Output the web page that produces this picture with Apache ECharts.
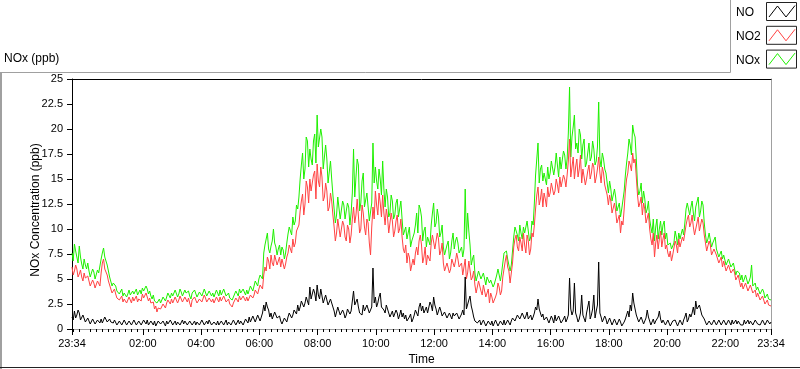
<!DOCTYPE html>
<html><head><meta charset="utf-8">
<script src="https://cdn.jsdelivr.net/npm/echarts@6/dist/echarts.min.js"></script>
<style>html,body{margin:0;padding:0;background:#fff}#c{width:800px;height:369px}</style>
</head><body><div id="c"></div>
<script>
// ---- data ----
// Samples every 5 minutes starting 23:34, plus readings half-way between them (the fuzz of the trace).
const seriesNames = ['NO', 'NO2', 'NOx'];
const startMinute = -26;   // 23:34 of the previous day, in minutes from midnight
const stepMinutes = 5;

const NO = [
  1.2,1.8,1.4,1.6,1.0,1.2,0.9,0.8,0.7,0.9,0.6,0.8,
  1.0,0.9,1.1,0.8,0.7,0.6,0.8,0.5,0.7,0.6,0.8,0.5,
  0.7,0.6,0.9,0.5,0.8,0.6,0.7,0.9,0.5,0.6,0.8,0.5,
  0.7,0.4,0.6,0.8,0.5,0.7,0.6,0.4,0.8,0.6,0.5,0.7,
  0.5,0.8,0.6,0.4,0.7,0.5,0.8,0.6,0.5,0.7,0.4,0.6,
  0.8,0.5,0.7,0.6,0.4,0.7,0.5,0.8,0.6,0.5,0.7,0.6,
  0.9,1.2,0.8,1.1,0.9,1.3,1.0,2.4,2.7,1.9,1.6,1.2,
  1.5,1.0,0.8,0.6,1.0,1.2,1.6,1.4,2.0,2.4,2.2,3.0,
  2.6,3.4,4.2,3.2,3.6,4.4,3.0,3.8,2.6,3.2,2.2,2.8,
  1.8,1.4,2.0,1.2,1.6,1.4,2.2,1.8,3.8,2.6,2.2,1.8,
  2.4,1.6,2.0,1.4,6.1,3.2,2.6,3.6,2.4,1.6,2.0,1.2,
  1.8,1.0,1.6,1.4,1.2,1.0,0.8,1.2,0.7,1.4,1.8,2.2,
  1.8,1.6,2.2,1.8,2.4,3.2,2.0,1.6,1.8,1.2,1.4,1.0,
  1.3,1.6,1.1,1.4,1.2,1.9,5.2,2.2,3.3,1.8,0.8,0.6,
  0.9,0.5,0.7,0.4,0.6,0.8,0.5,0.7,0.4,0.6,0.9,0.5,
  0.7,0.8,1.2,1.0,1.5,1.1,1.6,1.3,1.0,1.4,1.2,2.2,
  3.0,1.8,1.5,0.8,1.2,0.7,1.0,1.4,0.9,1.1,0.7,1.3,
  1.0,5.1,1.4,4.6,1.2,1.0,3.4,1.2,1.6,2.8,1.4,3.4,
  1.8,6.7,1.2,0.8,1.0,0.6,0.9,0.5,0.8,0.6,0.7,0.5,
  1.0,1.8,2.4,3.6,2.0,1.2,0.8,1.0,0.6,1.9,0.8,0.7,
  0.5,0.9,1.8,0.6,0.8,0.5,0.7,0.4,0.6,0.8,0.5,0.7,
  0.9,1.6,1.0,1.2,2.2,2.8,1.8,2.6,1.6,0.7,0.5,0.8,
  0.6,0.9,0.5,0.7,0.6,0.8,0.5,0.7,0.9,0.6,0.5,0.8,
  0.6,0.9,0.7,0.5,0.8,0.6,1.0,0.7,0.5,0.8,0.6,0.9,
  0.7
];
const NO_half = [
  0.9,1.1,1.9,0.9,1.4,0.7,1.1,0.5,1.0,0.5,0.9,0.6,
  0.6,1.2,0.7,1.0,0.5,0.9,0.4,0.8,0.4,0.9,0.4,0.8,
  0.4,0.9,0.4,0.8,0.4,0.9,0.5,0.4,0.8,0.4,0.3,0.8,
  0.5,0.8,0.3,0.5,0.9,0.4,0.8,0.7,0.4,0.9,0.8,0.4,
  0.8,0.4,0.8,0.7,0.4,0.9,0.4,0.8,0.9,0.4,0.7,0.4,
  0.4,0.8,0.4,0.9,0.7,0.4,0.9,0.4,0.9,0.8,0.4,1.0,
  0.6,0.7,1.3,0.7,1.4,0.8,1.6,1.8,2.2,1.2,1.0,1.7,
  1.1,1.3,0.5,1.1,0.7,1.6,1.1,1.9,1.5,1.8,2.8,2.2,
  3.2,2.4,3.0,4.0,2.8,3.4,4.0,2.6,3.4,2.4,3.0,2.2,
  1.2,2.2,1.4,1.9,1.1,2.0,1.5,2.8,2.4,3.0,1.6,1.4,
  1.8,2.4,1.6,2.2,2.6,2.2,3.2,2.2,1.9,2.4,1.6,1.0,
  1.2,1.9,1.0,1.9,1.6,1.4,0.6,1.5,1.0,1.9,1.3,2.6,
  2.3,1.9,1.6,2.7,1.8,2.4,1.4,2.2,1.3,1.7,1.1,1.6,
  1.0,1.3,1.6,1.0,1.5,1.4,2.0,2.9,2.3,1.2,1.0,0.4,
  0.4,0.9,0.3,0.8,0.4,0.3,0.9,0.3,0.8,0.4,0.4,0.9,
  0.4,1.1,0.8,1.4,1.0,1.6,1.0,1.7,1.2,0.9,1.6,1.9,
  2.0,1.2,0.9,1.2,0.6,1.3,0.6,0.8,1.3,0.6,1.0,0.7,
  1.4,2.0,1.8,1.6,0.7,1.6,1.4,0.7,2.2,1.0,2.0,1.1,
  2.4,1.6,0.7,1.3,0.5,1.1,0.4,1.0,0.4,1.0,0.3,0.7,
  1.4,1.2,1.8,2.6,1.4,0.7,1.2,0.5,1.1,1.2,0.4,1.0,
  0.8,1.2,1.0,0.9,0.4,0.9,0.3,0.8,0.9,0.3,0.9,0.4,
  1.2,0.7,1.5,1.6,1.4,2.0,2.4,1.4,1.0,0.4,0.8,0.4,
  0.9,0.4,0.9,0.4,0.9,0.4,0.9,0.4,0.5,0.9,0.8,0.4,
  0.4,0.5,0.9,0.8,0.4,0.9,0.5,0.4,0.9,0.4,0.9,0.5
];

const NO2 = [
  6.2,5.8,6.0,5.5,5.2,5.6,5.0,4.8,4.5,4.6,4.2,4.6,
  5.6,7.0,6.2,4.8,4.2,3.8,3.5,3.3,3.0,2.7,3.1,2.8,
  2.9,3.2,3.0,2.7,3.2,3.5,3.0,3.4,3.1,2.4,2.0,1.7,
  2.3,1.9,2.4,2.6,2.8,3.0,2.7,3.1,2.9,3.2,2.8,3.0,
  3.1,2.2,2.8,3.0,2.7,3.2,2.9,3.1,2.8,3.3,3.0,2.7,
  3.0,3.2,2.9,3.1,2.8,2.5,2.2,2.7,3.0,3.3,2.9,3.1,
  3.2,3.0,3.6,3.4,3.8,4.0,4.5,5.4,5.8,6.8,7.4,6.3,
  7.6,6.8,6.2,6.8,6.5,7.6,8.2,9.0,8.6,9.6,11.8,13.5,
  12.5,14.2,15.0,13.6,15.8,16.5,14.2,15.2,13.2,13.8,12.2,12.8,
  10.2,9.6,10.8,9.0,10.4,8.8,10.0,9.4,12.2,11.4,12.8,10.0,
  11.6,9.4,10.6,7.4,12.2,13.8,11.4,12.6,13.4,10.4,11.2,9.6,
  10.8,9.8,11.4,10.0,9.2,7.6,6.6,7.2,5.6,6.4,8.2,8.8,
  8.4,7.2,6.4,7.6,8.6,9.6,8.2,9.0,7.8,6.6,5.8,6.8,
  6.0,7.2,6.8,7.0,6.0,5.4,7.0,5.6,6.6,5.2,4.4,3.8,
  4.6,3.4,4.2,3.6,2.6,3.2,2.4,3.6,4.2,3.8,6.0,7.4,
  5.8,4.8,8.2,9.4,7.8,8.6,9.6,7.6,8.8,8.0,9.2,12.0,
  14.2,13.0,12.2,13.0,14.2,13.6,14.8,13.8,14.4,15.2,14.0,15.0,
  15.4,19.0,16.2,15.0,17.0,16.0,14.6,15.8,15.0,16.4,15.6,16.2,
  15.2,17.2,14.6,15.6,14.2,12.4,12.8,11.4,11.8,10.6,9.6,10.4,
  13.8,15.6,16.4,17.6,17.0,13.4,12.6,11.4,12.0,10.8,10.0,8.4,
  7.2,9.4,9.0,8.2,9.6,8.4,7.2,6.8,7.6,8.4,9.0,8.0,
  8.8,10.4,11.4,10.6,10.2,9.6,11.2,10.0,10.6,8.6,8.0,8.4,
  7.6,8.2,7.2,6.8,6.2,6.6,5.8,6.0,5.4,5.6,5.0,4.8,
  4.6,4.2,4.4,3.9,4.2,3.6,3.2,3.4,2.8,2.9,2.6,2.4,
  2.3
];
const NO2_half = [
  5.4,6.4,5.2,5.9,4.8,5.1,5.3,4.3,4.9,4.1,4.8,4.3,
  6.6,6.0,5.4,4.4,3.6,4.0,3.1,2.9,3.3,3.0,2.6,3.2,
  2.6,2.8,3.3,3.0,2.8,3.1,3.6,2.8,2.6,2.7,2.3,2.1,
  2.0,2.5,2.1,2.9,2.5,2.6,3.2,2.6,3.3,2.7,3.2,2.7,
  2.6,2.9,3.2,2.6,3.0,2.7,3.4,2.7,3.1,2.7,2.6,3.2,
  2.7,2.8,3.3,2.7,3.0,2.3,2.6,3.1,2.7,2.9,3.3,2.8,
  2.8,3.4,3.1,3.9,3.5,4.4,4.0,6.2,7.2,6.0,6.6,7.4,
  6.4,7.2,7.0,6.0,7.2,8.4,7.6,8.2,9.8,10.4,12.8,11.4,
  14.8,12.6,13.8,15.4,13.0,14.8,16.2,12.8,14.6,11.8,13.6,11.4,
  8.8,11.0,9.2,10.8,9.2,10.4,8.6,11.0,10.6,13.0,9.6,12.4,
  10.2,11.0,8.6,10.2,11.0,12.4,13.6,11.2,11.6,12.0,9.6,11.6,
  9.2,10.8,9.6,11.0,8.0,8.4,7.6,5.8,7.0,7.6,7.4,9.4,
  6.6,8.2,7.4,6.8,9.4,8.0,9.6,7.4,8.6,5.8,6.6,5.6,
  7.0,6.2,7.6,6.2,6.6,6.2,5.0,6.8,4.9,5.8,3.6,4.8,
  3.8,4.4,3.2,4.0,3.6,2.6,3.2,4.6,3.4,5.2,6.8,6.2,
  4.6,6.6,9.0,8.2,9.2,7.8,8.4,9.4,7.4,9.6,10.4,13.4,
  12.4,14.0,13.6,12.2,13.2,14.6,13.4,15.0,13.6,14.2,15.4,14.2,
  16.8,15.2,17.2,16.2,15.2,17.4,16.0,14.4,15.8,15.0,16.6,14.6,
  16.0,15.6,16.2,14.4,13.4,13.4,11.6,12.6,10.6,11.4,10.8,12.0,
  15.0,16.8,15.8,16.6,15.2,12.2,13.2,12.6,10.6,11.6,9.0,9.6,
  8.6,8.0,9.8,9.0,8.0,7.6,7.8,7.4,8.8,7.6,8.2,9.2,
  9.6,11.0,10.2,11.4,9.4,10.6,9.8,11.0,9.4,7.8,8.8,7.4,
  8.0,7.4,6.6,7.2,6.8,5.8,6.4,5.6,6.0,4.9,5.4,4.2,
  4.0,4.6,3.8,4.4,3.6,3.9,3.6,2.9,3.3,2.5,2.9,2.6
];

const NOx = [
  7.6,8.5,7.2,8.3,6.5,7.0,6.0,5.8,5.4,5.7,5.2,5.6,
  7.0,8.1,7.4,5.8,5.0,4.6,4.3,4.0,3.6,3.3,3.7,3.5,
  3.4,3.8,3.6,3.4,3.9,4.1,3.7,4.0,3.8,3.0,2.8,2.6,
  3.0,2.7,3.1,3.2,3.4,3.6,3.3,3.9,3.5,3.7,3.4,3.6,
  3.8,3.0,3.5,3.7,3.4,3.9,3.5,3.8,3.4,3.9,3.6,3.3,
  3.6,3.9,3.5,3.8,3.4,3.1,2.9,3.3,3.7,4.0,3.5,3.8,
  3.9,3.6,4.2,4.3,4.6,5.0,5.4,7.6,8.2,8.0,8.3,10.0,
  8.2,8.0,7.4,7.9,7.6,9.5,10.4,11.2,10.8,12.0,15.0,17.6,
  16.0,18.8,18.0,16.4,19.5,21.4,18.0,19.2,16.2,17.0,14.4,15.0,
  12.0,11.4,13.0,11.2,12.4,10.8,12.2,11.6,18.0,15.2,16.4,12.6,
  15.6,12.2,13.4,11.0,18.6,16.2,14.0,15.0,16.8,12.2,13.2,11.6,
  12.8,11.4,13.0,12.0,11.0,9.4,9.0,10.2,8.8,9.6,11.6,12.4,
  11.2,9.8,8.2,9.4,10.4,12.6,10.6,11.2,9.6,8.2,7.4,8.8,
  7.6,9.6,8.8,8.6,7.6,7.2,14.0,11.6,8.4,7.0,5.6,5.0,
  5.8,4.8,5.6,5.2,4.6,4.8,4.5,5.4,6.2,5.6,7.6,7.8,
  6.8,6.4,9.2,10.2,8.8,9.6,10.2,9.4,10.6,9.2,10.4,15.4,
  18.6,16.0,14.8,15.8,16.2,15.6,17.0,16.2,16.4,17.2,16.0,17.4,
  17.0,24.2,19.2,21.4,18.6,20.0,17.0,19.0,16.6,18.6,17.2,18.0,
  16.8,22.7,16.2,17.0,15.6,13.6,14.0,12.8,13.2,12.0,11.2,12.2,
  15.4,17.6,18.4,20.4,19.2,14.4,13.8,12.6,13.0,12.0,11.0,9.6,
  8.8,11.0,10.0,9.4,10.8,9.6,8.2,8.0,8.6,9.2,9.6,8.8,
  9.4,12.0,12.8,12.2,11.6,12.2,13.2,11.8,12.4,9.4,9.0,9.4,
  8.6,9.2,7.8,7.4,7.0,7.4,6.6,6.8,6.2,6.4,5.8,5.6,
  5.4,5.0,5.2,4.8,6.4,4.2,3.9,4.0,3.6,3.7,3.2,3.0,
  2.9
];
const NOx_half = [
  6.8,7.8,6.6,7.2,6.0,6.4,6.6,5.2,6.0,5.0,5.9,5.4,
  7.6,7.2,6.4,5.2,4.3,4.8,3.8,3.5,4.0,3.6,3.2,3.9,
  3.3,3.5,4.0,3.6,3.5,3.8,4.3,3.5,3.3,3.4,3.0,2.8,
  2.6,3.2,2.8,3.6,3.1,3.3,3.9,3.2,4.0,3.3,3.9,3.4,
  3.3,3.6,3.9,3.2,3.7,3.3,4.0,3.3,3.8,3.3,3.2,3.9,
  3.3,3.4,4.0,3.3,3.6,2.9,3.2,3.8,3.3,3.6,4.0,3.4,
  3.5,4.3,3.8,4.8,4.3,5.4,5.0,8.4,9.6,7.6,8.8,8.6,
  7.4,8.4,8.2,7.0,8.6,10.2,9.4,10.4,12.4,13.2,16.4,15.0,
  19.2,16.2,17.0,18.8,16.6,18.2,20.0,16.0,18.4,14.6,16.8,13.4,
  10.6,13.2,11.0,12.8,11.0,12.6,10.4,13.6,13.2,17.0,11.8,14.8,
  12.2,13.6,10.8,12.6,14.6,14.8,16.0,13.4,14.0,14.0,11.2,13.4,
  11.0,12.6,11.2,12.8,9.4,10.2,9.2,8.2,9.2,10.4,9.6,12.0,
  8.8,10.2,9.2,8.4,11.6,10.2,12.0,9.2,10.4,7.4,8.4,7.0,
  8.8,8.0,9.2,7.6,8.2,8.0,9.0,9.8,6.4,7.4,4.8,5.8,
  5.0,5.6,4.4,5.4,4.9,4.2,4.6,6.0,4.8,6.6,7.4,7.0,
  5.8,7.8,10.2,9.4,10.4,9.0,9.6,10.8,8.8,10.8,12.6,17.0,
  14.6,16.4,15.6,14.4,15.0,16.8,15.4,17.6,15.2,16.0,17.8,16.0,
  19.6,17.2,20.2,18.0,17.6,19.4,18.4,16.2,17.6,16.8,18.8,16.4,
  18.2,17.0,17.6,16.0,14.6,14.8,12.8,14.0,11.8,12.6,12.0,13.8,
  16.6,19.0,17.4,19.6,17.0,13.4,14.6,13.8,11.6,12.8,10.2,11.0,
  10.2,9.0,10.8,10.4,9.0,8.4,8.6,8.2,9.8,8.4,9.0,10.0,
  10.6,12.6,11.4,12.8,10.8,12.0,11.2,12.8,10.6,8.6,9.6,8.2,
  8.8,8.0,7.2,7.8,7.4,6.4,7.0,6.2,6.6,5.4,6.0,4.9,
  4.7,5.4,4.5,5.2,4.3,4.6,4.2,3.5,4.0,3.1,3.5,3.2
];

const xTickMinutes = [-26,120,240,360,480,600,720,840,960,1080,1200,1320,1414];
const xTickLabels  = ['23:34','02:00','04:00','06:00','08:00','10:00','12:00','14:00','16:00','18:00','20:00','22:00','23:34'];
const yMin = 0, yMax = 25, yStep = 2.5;

// ---- build ----
const colors = { NO: '#000000', NO2: '#ff4242', NOx: '#1ef000' };
function toPairs(main, half) {
  const out = [];
  main.forEach((v, i) => {
    const t = startMinute + i * stepMinutes;
    out.push([t, v]);
    if (i < half.length) out.push([t + stepMinutes / 2, half[i]]);
  });
  return out;
}
const minorTicks = [];
for (let m = -24; m <= 1414; m += 12) { if (m % 120 !== 0) minorTicks.push(m); }
const FONT = "'Liberation Sans', Arial, sans-serif";

const chart = echarts.init(document.getElementById('c'), null, { renderer: 'canvas' });
const xBase = { type: 'value', min: startMinute, max: startMinute + 1440, gridIndex: 0, splitLine: { show: false } };

function swatch(y, color) {
  return [
    { type: 'rect', shape: { x: 766.5, y: y + 0.5, width: 30, height: 18 }, style: { fill: '#fff', stroke: '#222', lineWidth: 1 }, silent: true },
    { type: 'polyline', shape: { points: [[769, y + 15], [777.5, y + 4], [786, y + 15], [795, y + 3.5]] }, style: { stroke: color, lineWidth: 1, fill: null }, silent: true }
  ];
}
const legendGraphics = [];
seriesNames.forEach((n, k) => {
  const y0 = 2 + k * 23.8;
  legendGraphics.push({ type: 'text', x: 736, y: y0 + 11, style: { text: n, fill: '#000', font: '12px ' + FONT, textVerticalAlign: 'middle' }, silent: true });
  legendGraphics.push(...swatch(y0, colors[n]));
});

chart.setOption({
  animation: false,
  backgroundColor: '#ffffff',
  textStyle: { fontFamily: FONT },
  title: { text: 'NOx (ppb)', left: 4, top: 53, padding: 0, textStyle: { fontSize: 12, fontWeight: 'normal', color: '#000', fontFamily: FONT } },
  grid: { left: 72, right: 29, top: 79, bottom: 40, containLabel: false, outerBoundsMode: 'none' },
  graphic: [
    { type: 'line', shape: { x1: 0, y1: 72.5, x2: 730.5, y2: 72.5 }, style: { stroke: '#a0a0a0', lineWidth: 1 }, silent: true },
    { type: 'line', shape: { x1: 730.5, y1: 0, x2: 730.5, y2: 72.5 }, style: { stroke: '#a0a0a0', lineWidth: 1 }, silent: true },
    { type: 'line', shape: { x1: 1, y1: 72.5, x2: 1, y2: 369 }, style: { stroke: '#a0a0a0', lineWidth: 2 }, silent: true },
    { type: 'line', shape: { x1: 0, y1: 367.5, x2: 800, y2: 367.5 }, style: { stroke: '#222', lineWidth: 1 }, silent: true },
    ...legendGraphics
  ],
  xAxis: [
    Object.assign({}, xBase, {
      position: 'bottom',
      name: 'Time', nameLocation: 'middle', nameGap: 25, nameMoveOverlap: false,
      nameTextStyle: { fontSize: 12, color: '#000', fontFamily: FONT },
      axisLine: { show: true, onZero: false, lineStyle: { color: '#a0a0a0', width: 1 } },
      axisTick: { show: true, length: 6, customValues: xTickMinutes, lineStyle: { color: '#000' } },
      axisLabel: { show: true, customValues: xTickMinutes, margin: 9, fontSize: 11, color: '#000', fontFamily: FONT,
        formatter: v => { const k = xTickMinutes.indexOf(v); return k >= 0 ? xTickLabels[k] : ''; } }
    }),
    Object.assign({}, xBase, {
      position: 'bottom',
      axisLine: { show: false, onZero: false },
      axisTick: { show: true, length: 3, customValues: minorTicks, lineStyle: { color: '#000' } },
      axisLabel: { show: false }
    }),
    Object.assign({}, xBase, {
      position: 'top',
      axisLine: { show: true, onZero: false, lineStyle: { color: '#000', width: 1 } },
      axisTick: { show: false }, axisLabel: { show: false }
    })
  ],
  yAxis: [
    {
      type: 'value', min: yMin, max: yMax, interval: yStep, position: 'left',
      name: 'NOx Concentration (ppb)', nameLocation: 'middle', nameGap: 30, nameMoveOverlap: false,
      nameTextStyle: { fontSize: 12, color: '#000', fontFamily: FONT, padding: [0, 12, 0, 0] },
      axisLine: { show: true, onZero: false, lineStyle: { color: '#000', width: 1 } },
      axisTick: { show: true, length: 5, lineStyle: { color: '#000' } },
      axisLabel: { margin: 9, fontSize: 11, color: '#000', fontFamily: FONT },
      splitLine: { show: false }
    },
    {
      type: 'value', min: yMin, max: yMax, interval: yStep, position: 'right',
      axisLine: { show: true, onZero: false, lineStyle: { color: '#a0a0a0', width: 1 } },
      axisTick: { show: false }, axisLabel: { show: false }, splitLine: { show: false }
    }
  ],
  series: [
    { name: 'NOx', type: 'line', data: toPairs(NOx, NOx_half), showSymbol: false, symbol: 'none', lineStyle: { color: colors.NOx, width: 1 }, itemStyle: { color: colors.NOx }, xAxisIndex: 0, yAxisIndex: 0, z: 2 },
    { name: 'NO2', type: 'line', data: toPairs(NO2, NO2_half), showSymbol: false, symbol: 'none', lineStyle: { color: colors.NO2, width: 1 }, itemStyle: { color: colors.NO2 }, xAxisIndex: 0, yAxisIndex: 0, z: 3 },
    { name: 'NO',  type: 'line', data: toPairs(NO, NO_half),  showSymbol: false, symbol: 'none', lineStyle: { color: colors.NO, width: 1 },  itemStyle: { color: colors.NO },  xAxisIndex: 0, yAxisIndex: 0, z: 4 }
  ]
});
</script></body></html>
